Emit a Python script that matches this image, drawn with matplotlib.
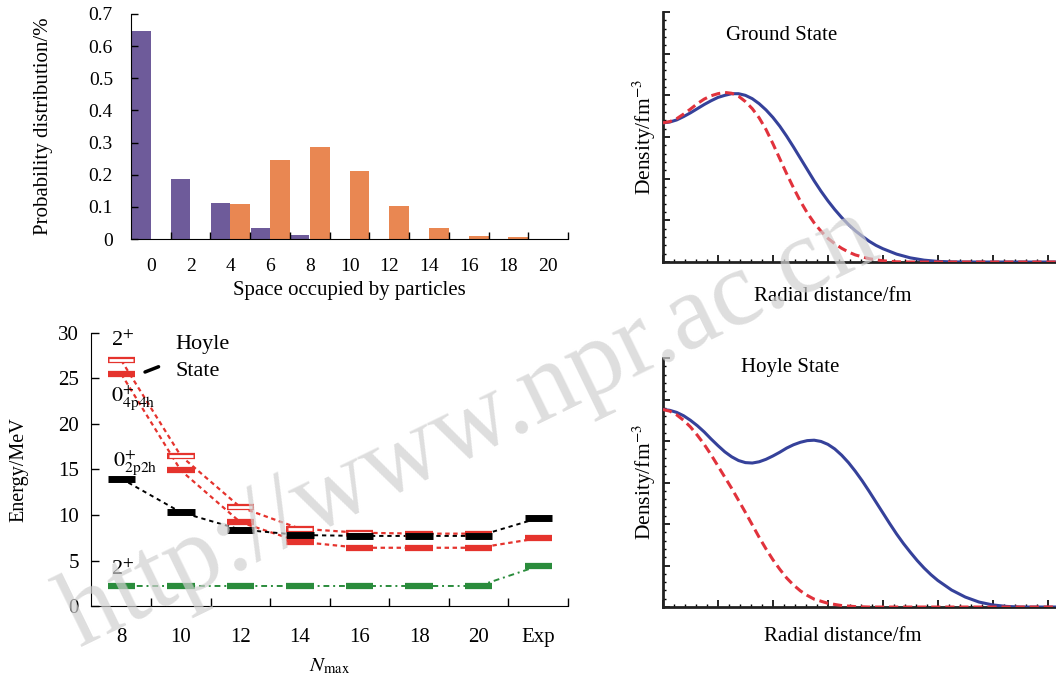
import numpy as np
import matplotlib
matplotlib.use("Agg")
import matplotlib.pyplot as plt
from matplotlib.ticker import MultipleLocator

plt.rcParams['font.family'] = ['Liberation Serif', 'DejaVu Serif']
plt.rcParams['mathtext.fontset'] = 'stix'

# --- top left: occupation probability ---
space_labels = ['0', '2', '4', '6', '8', '10', '12', '14', '16', '18', '20']
prob_ground = [0.648, 0.186, 0.111, 0.035, 0.011, 0, 0, 0, 0, 0, 0]
prob_hoyle = [0, 0, 0.109, 0.246, 0.287, 0.213, 0.104, 0.033, 0.010, 0.006, 0]

# --- bottom left: energy levels vs Nmax ---
nmax_labels = ['8', '10', '12', '14', '16', '18', '20', 'Exp']
e_2plus_hoyle = [27.0, 16.5, 10.85, 8.5, 8.05, 7.95, 7.95, np.nan]
e_0plus_4p4h = [25.5, 14.9, 9.2, 7.05, 6.4, 6.4, 6.4, 7.45]
e_0plus_2p2h = [14.0, 10.3, 8.4, 7.8, 7.7, 7.7, 7.7, 9.65]
e_2plus_first = [2.2, 2.2, 2.2, 2.2, 2.2, 2.2, 2.2, 4.4]

# --- right: radial densities (arb. units) ---
r_gs_solid = [0, 0.125, 0.25, 0.375, 0.5, 0.625, 0.75, 0.875, 1.0, 1.125, 1.25, 1.375,
              1.5, 1.625, 1.75, 1.875, 2.0, 2.125, 2.25, 2.375, 2.5, 2.625, 2.75, 2.875,
              3.0, 3.125, 3.25, 3.375, 3.5, 3.625, 3.75, 3.875, 4.0, 4.25, 4.5, 4.75,
              5.0, 5.25, 5.5, 7.2]
rho_gs_solid = [3.34, 3.36, 3.41, 3.49, 3.58, 3.68, 3.78, 3.87, 3.95, 4.00, 4.04, 4.04,
                4.00, 3.92, 3.80, 3.65, 3.47, 3.26, 3.02, 2.76, 2.49, 2.22, 1.95, 1.70,
                1.47, 1.26, 1.07, 0.90, 0.75, 0.62, 0.50, 0.40, 0.32, 0.19, 0.10, 0.045,
                0.015, 0.003, 0, 0]
r_gs_dash = [0, 0.125, 0.25, 0.375, 0.5, 0.625, 0.75, 0.875, 1.0, 1.125, 1.25, 1.375,
             1.5, 1.625, 1.75, 1.875, 2.0, 2.125, 2.25, 2.375, 2.5, 2.625, 2.75, 2.875,
             3.0, 3.125, 3.25, 3.375, 3.5, 3.75, 4.0, 4.25, 4.5, 7.2]
rho_gs_dash = [3.34, 3.37, 3.44, 3.55, 3.67, 3.80, 3.91, 3.99, 4.04, 4.07, 4.05, 3.98,
               3.85, 3.68, 3.46, 3.18, 2.84, 2.48, 2.12, 1.78, 1.46, 1.18, 0.94, 0.74,
               0.57, 0.44, 0.33, 0.24, 0.17, 0.08, 0.03, 0.005, 0, 0]

r_hs_solid = [0, 0.125, 0.25, 0.375, 0.5, 0.625, 0.75, 0.875, 1.0, 1.125, 1.25, 1.375,
              1.5, 1.625, 1.75, 1.875, 2.0, 2.125, 2.25, 2.375, 2.5, 2.625, 2.75, 2.875,
              3.0, 3.125, 3.25, 3.375, 3.5, 3.625, 3.75, 3.875, 4.0, 4.125, 4.25, 4.375,
              4.5, 4.625, 4.75, 4.875, 5.0, 5.25, 5.5, 5.75, 6.0, 6.25, 6.5, 7.2]
rho_hs_solid = [4.76, 4.74, 4.69, 4.61, 4.50, 4.37, 4.22, 4.05, 3.89, 3.74, 3.62, 3.53,
                3.48, 3.47, 3.50, 3.56, 3.64, 3.73, 3.83, 3.91, 3.97, 4.01, 4.02, 3.99,
                3.92, 3.81, 3.66, 3.48, 3.27, 3.04, 2.79, 2.53, 2.27, 2.01, 1.76, 1.53,
                1.32, 1.12, 0.94, 0.78, 0.64, 0.41, 0.24, 0.12, 0.05, 0.015, 0, 0]
r_hs_dash = [0, 0.125, 0.25, 0.375, 0.5, 0.625, 0.75, 0.875, 1.0, 1.125, 1.25, 1.375,
             1.5, 1.625, 1.75, 1.875, 2.0, 2.125, 2.25, 2.375, 2.5, 2.625, 2.75, 3.0,
             3.25, 3.5, 3.75, 7.2]
rho_hs_dash = [4.76, 4.72, 4.63, 4.50, 4.34, 4.14, 3.92, 3.67, 3.40, 3.13, 2.86, 2.57,
               2.28, 1.98, 1.68, 1.40, 1.14, 0.91, 0.70, 0.53, 0.39, 0.28, 0.19, 0.09,
               0.035, 0.01, 0, 0]

purple = '#6e5b9a'
orange = '#e98752'
red = '#e5332d'
green = '#2a8c3c'
blue = '#35419a'
red_dash = '#e1323c'

fig = plt.figure(figsize=(10.56, 6.79), dpi=100)

# ---------------- bar chart ----------------
ax1 = fig.add_axes([0.1241, 0.6480, 0.4138, 0.3314])
idx = np.arange(len(space_labels))
ax1.bar(idx - 0.25, prob_ground, width=0.48, color=purple)
ax1.bar(idx + 0.25, prob_hoyle, width=0.5, color=orange)
ax1.set_xlim(-0.5, 10.5)
ax1.set_ylim(0, 0.7)
ax1.set_xticks(idx, space_labels)
ax1.set_xticks(idx + 0.5, minor=True)
ax1.tick_params(axis='x', which='major', length=0, pad=14, labelsize=14)
ax1.tick_params(axis='x', which='minor', direction='in', length=5, width=1)
ax1.set_yticks(np.arange(0, 0.71, 0.1), ['0', '0.1', '0.2', '0.3', '0.4', '0.5', '0.6', '0.7'])
ax1.tick_params(axis='y', direction='in', length=5, width=1, pad=13, labelsize=14)
for s in ['top', 'right']:
    ax1.spines[s].set_visible(False)
ax1.set_xlabel('Space occupied by particles', fontsize=15, labelpad=4)
ax1.set_ylabel('Probability distribution/%', fontsize=15, labelpad=26)

# ---------------- energy levels ----------------
ax2 = fig.add_axes([0.0866, 0.1075, 0.4513, 0.4021])
xn = np.arange(len(nmax_labels))
hw = 0.23
ax2.plot(xn, e_2plus_hoyle, color=red, lw=1.6, dashes=(2, 1.6), zorder=1)
ax2.plot(xn, e_0plus_4p4h, color=red, lw=1.6, dashes=(2, 1.6), zorder=1)
ax2.plot(xn, e_0plus_2p2h, color='black', lw=1.4, dashes=(2.2, 2), zorder=1)
ax2.plot(xn, e_2plus_first, color=green, lw=1.4, dashes=(3, 2, 1, 2), zorder=1)
ax2.hlines(e_2plus_first, xn - hw, xn + hw, color=green, lw=4.5, zorder=3)
ax2.hlines(e_0plus_2p2h, xn - hw, xn + hw, color='black', lw=5, zorder=4)
ax2.hlines(e_0plus_4p4h, xn - hw, xn + hw, color=red, lw=4.5, zorder=3)
ax2.hlines(e_2plus_hoyle, xn - hw, xn + hw, color=red, lw=4.5, zorder=3)
ax2.hlines(e_2plus_hoyle, xn - hw + 0.03, xn + hw - 0.03, color='white', lw=2, zorder=3.5)
ax2.set_xlim(-0.5, 7.5)
ax2.set_ylim(0, 30)
ax2.set_xticks(xn, nmax_labels)
ax2.set_xticks(xn + 0.5, minor=True)
ax2.tick_params(axis='x', which='major', length=0, pad=16, labelsize=15)
ax2.tick_params(axis='x', which='minor', direction='in', length=6, width=1)
ax2.set_yticks(np.arange(0, 31, 5))
ax2.tick_params(axis='y', direction='in', length=6, width=1, pad=9, labelsize=15)
for s in ['top', 'right']:
    ax2.spines[s].set_visible(False)
ax2.set_xlabel(r'$N_{\rm max}$', fontsize=15, labelpad=7)
ax2.set_ylabel('Energy/MeV', fontsize=14.5, labelpad=21)

ax2.text(-0.17, 29.1, r'2$^{+}$', fontsize=16, va='center', ha='left')
ax2.text(0.91, 28.7, 'Hoyle', fontsize=16, va='center', ha='left')
ax2.text(0.91, 25.75, 'State', fontsize=16, va='center', ha='left')
ax2.annotate('', xy=(0.67, 26.4), xytext=(0.356, 25.6),
             arrowprops=dict(arrowstyle='-', lw=2.5, color='black'))
ax2.text(-0.17, 22.9, r'$0^{+}_{\rm 4p4h}$', fontsize=16, va='center', ha='left')
ax2.text(-0.14, 15.8, r'$0^{+}_{\rm 2p2h}$', fontsize=16, va='center', ha='left')
ax2.text(-0.17, 4.0, r'2$^{+}$', fontsize=16, va='center', ha='left')


# ---------------- density panels ----------------
def density_axes(rect, r_s, y_s, r_d, y_d, title, title_xy, xlab_xy):
    ax = fig.add_axes(rect)
    ax.plot(r_s, y_s, color=blue, lw=2.2, zorder=3, solid_joinstyle='round')
    ax.plot(r_d, y_d, color=red_dash, lw=2.2, dashes=(3, 1.6), zorder=3)
    ax.set_xlim(0, 7.15)
    ax.set_ylim(0, 6)
    ax.xaxis.set_major_locator(MultipleLocator(1))
    ax.xaxis.set_minor_locator(MultipleLocator(0.2))
    ax.yaxis.set_major_locator(MultipleLocator(1))
    ax.yaxis.set_minor_locator(MultipleLocator(0.2))
    ax.tick_params(which='major', direction='in', length=5, width=1.2,
                   labelbottom=False, labelleft=False)
    ax.tick_params(which='minor', direction='in', length=2.5, width=1)
    for s in ['top', 'right']:
        ax.spines[s].set_visible(False)
    for s in ['left', 'bottom']:
        ax.spines[s].set_linewidth(2)
        ax.spines[s].set_color('#222222')
    ax.text(title_xy[0], title_xy[1], title, transform=ax.transAxes,
            fontsize=15, ha='center', va='center')
    ax.set_xlabel('Radial distance/fm', fontsize=15)
    ax.xaxis.set_label_coords(*xlab_xy)
    ax.set_ylabel(r'Density/fm$^{-3}$', fontsize=15.5, labelpad=0)
    return ax


ax3 = density_axes([0.6278, 0.6141, 0.3722, 0.3682], r_gs_solid, rho_gs_solid,
                   r_gs_dash, rho_gs_dash, 'Ground State', (0.303, 0.908), (0.433, -0.10))
ax4 = density_axes([0.6278, 0.1060, 0.3722, 0.3667], r_hs_solid, rho_hs_solid,
                   r_hs_dash, rho_hs_dash, 'Hoyle State', (0.323, 0.96), (0.458, -0.08))

# watermark
fig.text(0.445, 1 - 428 / 679, 'http://www.npr.ac.cn', rotation=26, ha='center', va='center',
         fontsize=77, color='#d0d0d0', alpha=0.7, zorder=20, rotation_mode='anchor')

fig.savefig('out.png', dpi=100)
